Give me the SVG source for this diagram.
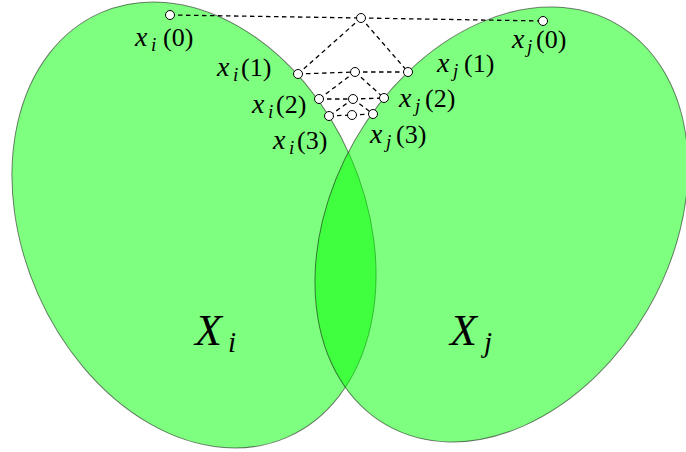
<svg xmlns="http://www.w3.org/2000/svg" width="686" height="452" viewBox="0 0 686 452">
<style>
.set{fill:#00ff00;fill-opacity:0.5;stroke:#000;stroke-opacity:0.5;stroke-width:1}
.edge{stroke:#000;stroke-width:1.3;stroke-dasharray:4.5 3.5;fill:none}
.pt{fill:#fff;stroke:#000;stroke-width:1}
.tx{font-family:'Liberation Serif','DejaVu Serif','Times New Roman',Times,serif}
.lbl{font-size:26px}
.it{font-style:italic;font-size:28px}
.sub{font-style:italic;font-size:19px}
.big{font-size:44px;font-style:italic}
.bigsub{font-size:29px;font-style:italic}
</style>
<g id="set-Xi"><ellipse class="set" cx="194" cy="225" rx="170.7" ry="231.8" transform="rotate(-23.8 194 225)"/></g>
<g id="set-Xj"><ellipse class="set" cx="501.5" cy="224.5" rx="169.2" ry="231.2" transform="rotate(29.9 501.5 224.5)"/></g>
<g id="connectors">
<line class="edge" x1="170" y1="15" x2="361" y2="18"/>
<line class="edge" x1="361" y1="18" x2="543" y2="21"/>
<line class="edge" x1="361" y1="18" x2="298" y2="74"/>
<line class="edge" x1="361" y1="18" x2="408" y2="72"/>
<line class="edge" x1="298" y1="74" x2="355" y2="72"/>
<line class="edge" x1="355" y1="72" x2="408" y2="72"/>
<line class="edge" x1="355" y1="72" x2="319" y2="99"/>
<line class="edge" x1="355" y1="72" x2="384" y2="98"/>
<line class="edge" x1="319" y1="99" x2="353" y2="99"/>
<line class="edge" x1="353" y1="99" x2="384" y2="98"/>
<line class="edge" x1="353" y1="99" x2="329" y2="116"/>
<line class="edge" x1="353" y1="99" x2="373" y2="114"/>
<line class="edge" x1="329" y1="116" x2="352" y2="115"/>
<line class="edge" x1="352" y1="115" x2="373" y2="114"/>
</g>
<g id="node-top"><circle class="pt" cx="361" cy="18" r="4.5"/></g>
<g id="node-xi0"><circle class="pt" cx="170" cy="15" r="4.5"/>
<text class="tx lbl"><tspan class="it" x="135" y="46">x</tspan><tspan class="sub" x="151" y="51">i</tspan><tspan x="163" y="46">(0)</tspan></text></g>
<g id="node-xj0"><circle class="pt" cx="543" cy="21" r="4.5"/>
<text class="tx lbl"><tspan class="it" x="512" y="48">x</tspan><tspan class="sub" x="527" y="53">j</tspan><tspan x="536" y="48">(0)</tspan></text></g>
<g id="node-xi1"><circle class="pt" cx="298" cy="74" r="4.5"/>
<text class="tx lbl"><tspan class="it" x="217" y="76">x</tspan><tspan class="sub" x="233" y="81">i</tspan><tspan x="241" y="76">(1)</tspan></text></g>
<g id="node-m1"><circle class="pt" cx="355" cy="72" r="4.5"/></g>
<g id="node-xj1"><circle class="pt" cx="408" cy="72" r="4.5"/>
<text class="tx lbl"><tspan class="it" x="437" y="72">x</tspan><tspan class="sub" x="453" y="77">j</tspan><tspan x="464" y="72">(1)</tspan></text></g>
<g id="node-xi2"><circle class="pt" cx="319" cy="99" r="4.5"/>
<text class="tx lbl"><tspan class="it" x="252" y="113">x</tspan><tspan class="sub" x="268" y="118">i</tspan><tspan x="276" y="113">(2)</tspan></text></g>
<g id="node-m2"><circle class="pt" cx="353" cy="99" r="4.5"/></g>
<g id="node-xj2"><circle class="pt" cx="384" cy="98" r="4.5"/>
<text class="tx lbl"><tspan class="it" x="399" y="107">x</tspan><tspan class="sub" x="415" y="112">j</tspan><tspan x="425" y="107">(2)</tspan></text></g>
<g id="node-xi3"><circle class="pt" cx="329" cy="116" r="4.5"/>
<text class="tx lbl"><tspan class="it" x="273" y="149">x</tspan><tspan class="sub" x="289" y="154">i</tspan><tspan x="297" y="149">(3)</tspan></text></g>
<g id="node-m3"><circle class="pt" cx="352" cy="115" r="4.5"/></g>
<g id="node-xj3"><circle class="pt" cx="373" cy="114" r="4.5"/>
<text class="tx lbl"><tspan class="it" x="370" y="143">x</tspan><tspan class="sub" x="386" y="148">j</tspan><tspan x="396" y="143">(3)</tspan></text></g>
<g id="label-Xi"><text class="tx"><tspan class="big" x="195" y="345">X</tspan><tspan class="bigsub" x="228" y="352">i</tspan></text></g>
<g id="label-Xj"><text class="tx"><tspan class="big" x="450" y="345">X</tspan><tspan class="bigsub" x="484" y="352">j</tspan></text></g>
</svg>
